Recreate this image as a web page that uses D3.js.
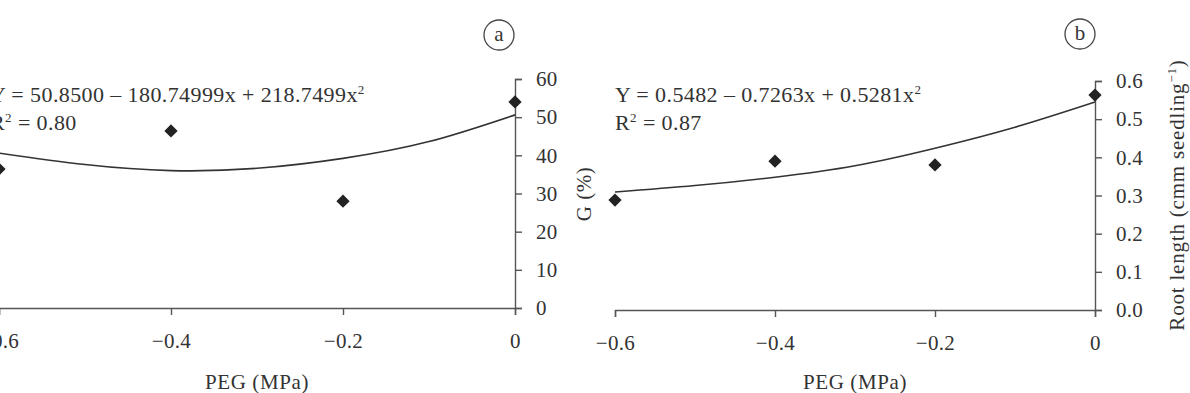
<!DOCTYPE html>
<html>
<head>
<meta charset="utf-8">
<script src="https://cdn.jsdelivr.net/npm/d3@7"></script>
<style>
  body { margin: 0; background: #fff; }
  text { font-family: "Liberation Serif", "DejaVu Serif", serif; fill: #333; }
</style>
</head>
<body>
<div id="chart"></div>
<script>
// PEG levels (MPa)
var peg = [-0.6, -0.4, -0.2, 0];
var xTicks = [-0.6, -0.4, -0.2, 0];

// panel a: germination G (%)
var germ = [36.4, 46.4, 28.0, 54.0];
var germCurveX = [-0.6, -0.5, -0.4, -0.3, -0.2, -0.1, 0];
var germCurve = [40.6, 37.6, 36.0, 36.6, 39.2, 43.6, 50.6];
var germTicks = [0, 10, 20, 30, 40, 50, 60];

// panel b: root length
var root = [0.288, 0.390, 0.380, 0.563];
var rootCurveX = [-0.6, -0.5, -0.4, -0.3, -0.2, -0.1, 0];
var rootCurve = [0.309, 0.326, 0.348, 0.378, 0.424, 0.479, 0.545];
var rootTicks = [0, 0.1, 0.2, 0.3, 0.4, 0.5, 0.6];

var svg = d3.select("#chart")
  .append("svg")
    .attr("width", 1190)
    .attr("height", 393);

function panel(opt) {
	var x = d3.scaleLinear().domain([-0.6, 0]).range(opt.xr);
	var y = d3.scaleLinear().domain(opt.yd).range(opt.yr);
	var g = svg.append("g");

	//x axis
	var xa = g.append("g")
	    .attr("transform", "translate(0," + opt.yr[0] + ")")
	    .call(d3.axisBottom(x).tickValues(xTicks).tickSize(7).tickPadding(18)
	      .tickFormat(function(d) { return d == 0 ? "0" : d3.format(".1f")(d); }));
	//y axis
	var ya = g.append("g")
	    .attr("transform", "translate(" + opt.xr[1] + ",0)")
	    .call(d3.axisRight(y).tickValues(opt.yTicks).tickSize(7).tickPadding(14)
	      .tickFormat(d3.format(opt.yFmt)));
	[xa, ya].forEach(function(a) {
		a.selectAll("path, line").style("stroke", "#555").style("stroke-width", "1.4px");
		a.selectAll("text").style("font-size", "21px").style("fill", "#333")
		  .style("letter-spacing", "0.3px")
		  .style("font-family", "'Liberation Serif', serif");
	});

	//fitted curve
	var line = d3.line()
	    .x(function(d) { return x(d[0]); })
	    .y(function(d) { return y(d[1]); })
	    .curve(d3.curveNatural);
	g.append("path")
	    .datum(d3.zip(opt.cx, opt.cy))
	    .attr("d", line)
	    .style("fill", "none")
	    .style("stroke", "#333")
	    .style("stroke-width", "1.6px");

	//points
	g.selectAll(".pt")
	    .data(d3.zip(peg, opt.vals))
	  .enter().append("path")
	    .attr("class", "pt")
	    .attr("d", d3.symbol().type(d3.symbolSquare).size(88))
	    .attr("transform", function(d) {
			return "translate(" + x(d[0]) + "," + y(d[1]) + ") rotate(45)";
	    })
	    .style("fill", "#222");

	//equation
	var eq = g.append("text")
	    .attr("x", opt.eqX)
	    .attr("y", 102)
	    .style("font-size", "22px")
	    .style("letter-spacing", "0.4px");
	eq.append("tspan").text(opt.eq);
	eq.append("tspan").attr("dy", -8).style("font-size", "13px").text("2");
	var r2 = g.append("text")
	    .attr("x", opt.eqX)
	    .attr("y", 130)
	    .style("font-size", "22px")
	    .style("letter-spacing", "0.4px");
	r2.append("tspan").text("R");
	r2.append("tspan").attr("dy", -8).style("font-size", "13px").text("2");
	r2.append("tspan").attr("dy", 8).text(" = " + opt.r2);

	//x title
	g.append("text")
	    .attr("x", x(-0.3))
	    .attr("y", 389)
	    .attr("text-anchor", "middle")
	    .style("font-size", "21px")
	    .style("letter-spacing", "0.6px")
	    .text("PEG (MPa)");

	//circled letter
	g.append("circle")
	    .attr("cx", opt.lab[0])
	    .attr("cy", opt.lab[1])
	    .attr("r", 15)
	    .style("fill", "none")
	    .style("stroke", "#444")
	    .style("stroke-width", "1.3px");
	g.append("text")
	    .attr("x", opt.lab[0])
	    .attr("y", opt.lab[1] + 6)
	    .attr("text-anchor", "middle")
	    .style("font-size", "21px")
	    .text(opt.letter);
	return g;
}

var ga = panel({
	xr: [-1, 515], yd: [0, 60], yr: [308, 79], yTicks: germTicks, yFmt: "d",
	vals: germ, cx: germCurveX, cy: germCurve,
	eq: "Y = 50.8500 \u2013 180.74999x + 218.7499x", r2: "0.80", eqX: -10,
	lab: [499, 35], letter: "a"
});
ga.append("text")
    .attr("transform", "translate(591,194) rotate(-90)")
    .attr("text-anchor", "middle")
    .style("font-size", "21px")
    .style("letter-spacing", "0.5px")
    .text("G (%)");

var gb = panel({
	xr: [615, 1095], yd: [0, 0.6], yr: [310, 81], yTicks: rootTicks, yFmt: ".1f",
	vals: root, cx: rootCurveX, cy: rootCurve,
	eq: "Y = 0.5482 \u2013 0.7263x + 0.5281x", r2: "0.87", eqX: 615,
	lab: [1080, 34], letter: "b"
});
var rt = gb.append("text")
    .attr("transform", "translate(1184,195) rotate(-90)")
    .attr("text-anchor", "middle")
    .style("font-size", "21px")
    .style("letter-spacing", "0.8px");
rt.append("tspan").text("Root length (cmm seedling");
rt.append("tspan").attr("dy", -8).style("font-size", "13px").text("\u22121");
rt.append("tspan").attr("dy", 8).text(")");
</script>
</body>
</html>
